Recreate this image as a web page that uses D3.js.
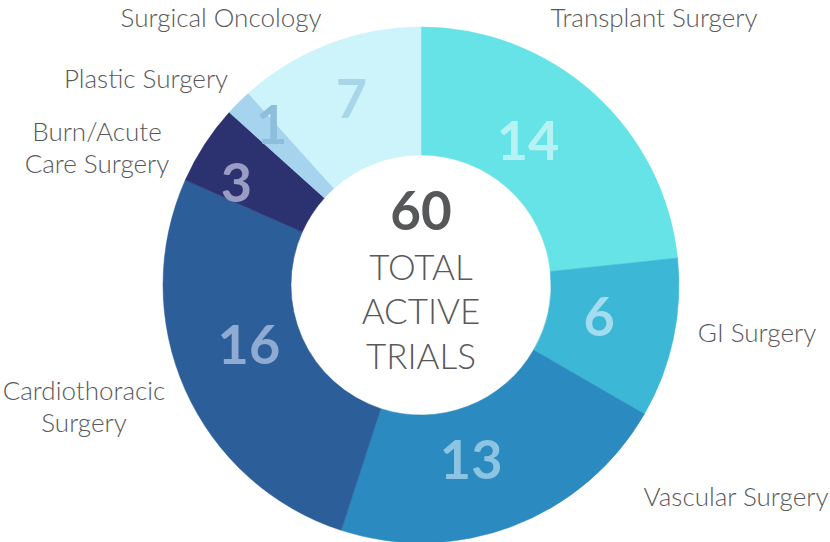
<!DOCTYPE html>
<html>
<head>
<meta charset="utf-8">
<script src="https://cdn.jsdelivr.net/npm/d3@7"></script>
<style>
  html, body { margin: 0; padding: 0; background: #ffffff; }
  svg { display: block; }
</style>
</head>
<body>
<svg id="chart" width="830" height="542"></svg>
<script>
// ---- data ----
const categories = ["Transplant Surgery", "GI Surgery", "Vascular Surgery", "Cardiothoracic Surgery",
                    "Burn/Acute Care Surgery", "Plastic Surgery", "Surgical Oncology"];
const values = [14, 6, 13, 16, 3, 1, 7];
const centerTitle = "60";
const centerLines = ["TOTAL", "ACTIVE", "TRIALS"];

// ---- styles ----
const sliceColors = ["#66e3e6", "#3db7d6", "#2b8abf", "#2c5f9a", "#2c3170", "#a6d3ee", "#cdf3fb"];
const numColors   = ["#b6f1f3", "#a3dcee", "#8cc4e1", "#8fabd2", "#9a9cc4", "#8dbfdc", "#a8d6e8"];

const W = 830, H = 542;
const cx = 421, cy = 285, R = 258, r = 130;
const font = "Lato, 'Open Sans', sans-serif";
const textColor = "#58595b";

const svg = d3.select("#chart");
const g = svg.append("g").attr("transform", `translate(${cx},${cy})`);

const pie = d3.pie().sort(null).value(d => d);
const arcs = pie(values);
const arc = d3.arc().innerRadius(r).outerRadius(R);

g.selectAll("path.slice").data(arcs).enter().append("path")
  .attr("class", "slice")
  .attr("d", arc)
  .attr("fill", (d, i) => sliceColors[i])
  .attr("stroke", (d, i) => sliceColors[i])
  .attr("stroke-width", 0.5);

// value labels: placed on a label arc, with small layout nudges (angle deg, radius)
const labelLayout = [
  { da: -5.5, rad: 180 }, { da: -2, rad: 181 }, { da: 5, rad: 182 }, { da: 5, rad: 182 },
  { da: -4, rad: 211 }, { da: 2, rad: 219 }, { da: 0.5, rad: 199 }
];
g.selectAll("text.val").data(arcs).enter().append("text")
  .attr("class", "val")
  .attr("x", (d, i) => {
    const a = (d.startAngle + d.endAngle) / 2 + labelLayout[i].da * Math.PI / 180;
    return labelLayout[i].rad * Math.sin(a);
  })
  .attr("y", (d, i) => {
    const a = (d.startAngle + d.endAngle) / 2 + labelLayout[i].da * Math.PI / 180;
    return -labelLayout[i].rad * Math.cos(a);
  })
  .attr("dy", "0.36em")
  .attr("text-anchor", "middle")
  .attr("font-family", font)
  .attr("font-weight", 700)
  .attr("font-size", 54)
  .attr("fill", (d, i) => numColors[i])
  .text(d => d.data);

// center text
svg.append("text")
  .attr("x", cx).attr("y", 230)
  .attr("text-anchor", "middle")
  .attr("font-family", font).attr("font-weight", 700).attr("font-size", 53)
  .attr("fill", "#555759")
  .text(centerTitle);
const centerBase = [280, 324, 369];
centerLines.forEach((t, i) => {
  svg.append("text")
    .attr("x", cx).attr("y", centerBase[i])
    .attr("text-anchor", "middle")
    .attr("font-family", font).attr("font-weight", 300).attr("font-size", 35)
    .attr("fill", textColor)
    .text(t);
});

// category labels (outside)
const catLabelLines = [
  ["Transplant Surgery"], ["GI Surgery"], ["Vascular Surgery"], ["Cardiothoracic", "Surgery"],
  ["Burn/Acute", "Care Surgery"], ["Plastic Surgery"], ["Surgical Oncology"]
];
const catPos = [
  { x: 654, y: 27 }, { x: 757, y: 342 }, { x: 736, y: 506 }, { x: 84, y: 400 },
  { x: 97, y: 141 }, { x: 146, y: 88 }, { x: 221, y: 27 }
];
categories.forEach((c, i) => {
  const t = svg.append("text")
    .attr("text-anchor", "middle")
    .attr("font-family", font).attr("font-weight", 300).attr("font-size", 26)
    .attr("fill", textColor);
  catLabelLines[i].forEach((line, j) => {
    t.append("tspan").attr("x", catPos[i].x).attr("y", catPos[i].y + j * 32).text(line);
  });
});
</script>
</body>
</html>
